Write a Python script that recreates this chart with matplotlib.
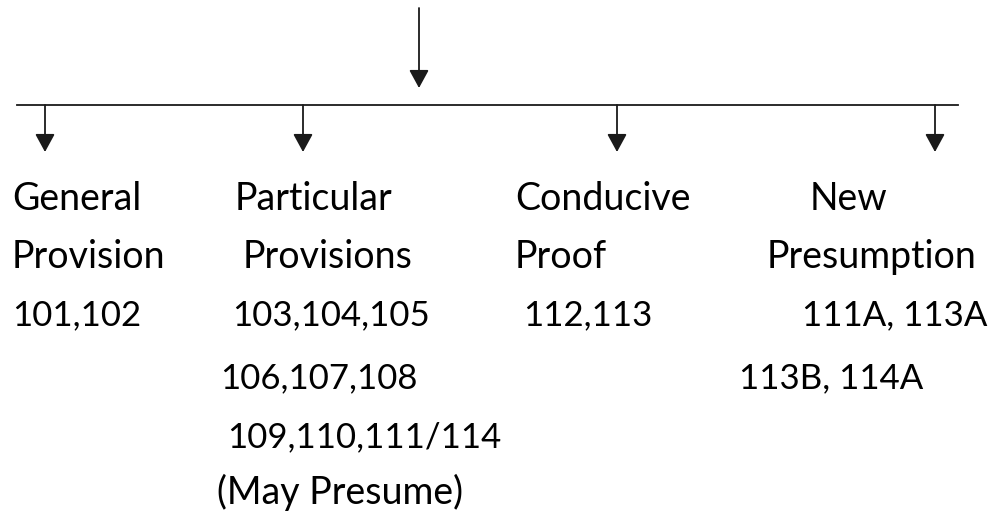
import matplotlib.pyplot as plt

# text of each branch, one entry per line
general = ['General', 'Provision', '101,102']
particular = ['Particular', 'Provisions', '103,104,105', '106,107,108',
              '109,110,111/114', '(May Presume)']
conducive = ['Conducive', 'Proof', '112,113']
new_presumption = ['New', 'Presumption', '111A, 113A', '113B, 114A']

branches = [general, particular, conducive, new_presumption]

# layout (pixels)
branch_x = [45, 303, 617, 935]
line_left = [
    [12, 12, 12],
    [235, 243, 232, 220, 227, 217],
    [515, 515, 523],
    [810, 767, 802, 739],
]
baselines = [210, 268, 325, 388, 447, 504]


def main():
    fig = plt.figure(figsize=(9.89, 5.18), dpi=100)
    ax = fig.add_axes([0, 0, 1, 1])
    ax.set_xlim(0, 989)
    ax.set_ylim(518, 0)
    ax.axis('off')

    arrow = dict(arrowstyle='-|>,head_length=1.1,head_width=0.6', lw=1.3,
                 color='#1a1a1a', shrinkA=0, shrinkB=0)

    # top arrow
    ax.annotate('', xy=(419, 88), xytext=(419, 8), arrowprops=arrow)
    # horizontal bar
    ax.plot([17, 958], [105, 105], color='#1a1a1a', lw=1.3)
    # branches
    for x in branch_x:
        ax.annotate('', xy=(x, 152), xytext=(x, 105), arrowprops=arrow)

    for lines, lefts in zip(branches, line_left):
        for i, txt in enumerate(lines):
            # digits run a bit wider in Lato, so numbers get a smaller size
            size = 25 if txt[0].isdigit() else 27
            ax.text(lefts[i], baselines[i], txt, fontsize=size, family='Lato',
                    ha='left', va='baseline', color='black')

    fig.savefig('out.png', dpi=100)


if __name__ == '__main__':
    main()
